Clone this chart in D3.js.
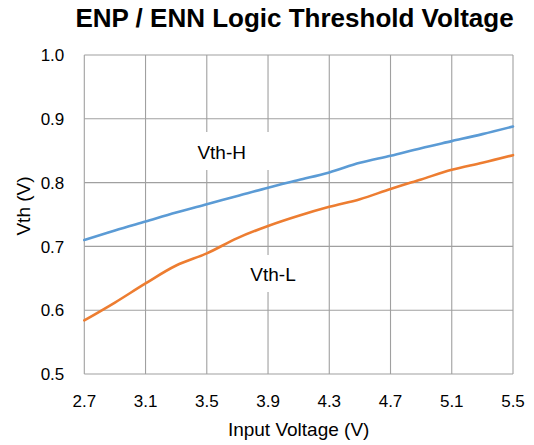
<!DOCTYPE html>
<html>
<head>
<meta charset="utf-8">
<script src="https://cdn.jsdelivr.net/npm/d3@7"></script>
<style>
  body { margin: 0; background: #fff; }
  text { font-family: "Liberation Sans", Arial, sans-serif; fill: #000; }
</style>
</head>
<body>
<svg id="chart" width="534" height="445"></svg>
<script>
// input voltage (V)
const vin = [2.7, 2.9, 3.1, 3.3, 3.5, 3.7, 3.9, 4.1, 4.3, 4.5, 4.7, 4.9, 5.1, 5.3, 5.5];
// threshold voltages
const vthH = [0.710, 0.725, 0.739, 0.753, 0.766, 0.779, 0.792, 0.804, 0.816, 0.831, 0.842, 0.854, 0.865, 0.876, 0.888];
const vthL = [0.584, 0.612, 0.642, 0.670, 0.689, 0.713, 0.732, 0.748, 0.762, 0.774, 0.790, 0.805, 0.820, 0.831, 0.843];

const xTicks = [2.7, 3.1, 3.5, 3.9, 4.3, 4.7, 5.1, 5.5];
const yTicks = [0.5, 0.6, 0.7, 0.8, 0.9, 1.0];

const margin = { top: 55, right: 21, bottom: 71, left: 84.3 };
const width = 534, height = 445;

const svg = d3.select("#chart");

const x = d3.scaleLinear().domain([2.7, 5.5]).range([margin.left, width - margin.right]);
const y = d3.scaleLinear().domain([0.5, 1.0]).range([height - margin.bottom, margin.top]);

// grid
svg.append("g")
  .selectAll("line")
  .data(yTicks)
  .join("line")
  .attr("x1", x(2.7)).attr("x2", x(5.5))
  .attr("y1", d => y(d)).attr("y2", d => y(d))
  .attr("stroke", "#a0a0a0").attr("stroke-width", 1.1);

svg.append("g")
  .selectAll("line")
  .data(xTicks)
  .join("line")
  .attr("x1", d => x(d)).attr("x2", d => x(d))
  .attr("y1", y(0.5)).attr("y2", y(1.0))
  .attr("stroke", "#a0a0a0").attr("stroke-width", 1.1);

// tick labels
svg.append("g")
  .selectAll("text")
  .data(yTicks)
  .join("text")
  .attr("x", x(2.7) - 20)
  .attr("y", d => y(d))
  .attr("dy", "0.36em")
  .attr("text-anchor", "end")
  .style("font-size", "17px")
  .text(d => d.toFixed(1));

svg.append("g")
  .selectAll("text")
  .data(xTicks)
  .join("text")
  .attr("x", d => x(d))
  .attr("y", 406.7)
  .attr("text-anchor", "middle")
  .style("font-size", "17px")
  .text(d => d.toFixed(1));

// axis titles
svg.append("text")
  .attr("transform", "translate(30,206) rotate(-90)")
  .attr("text-anchor", "middle")
  .style("font-size", "19px")
  .text("Vth (V)");

svg.append("text")
  .attr("x", (x(2.7) + x(5.5)) / 2)
  .attr("y", 436)
  .attr("text-anchor", "middle")
  .style("font-size", "19px")
  .text("Input Voltage (V)");

// title
svg.append("text")
  .attr("x", 294.5)
  .attr("y", 27)
  .attr("text-anchor", "middle")
  .style("font-size", "26px")
  .style("font-weight", "bold")
  .text("ENP / ENN Logic Threshold Voltage");

// series
const line = d3.line()
  .x((d, i) => x(vin[i]))
  .y(d => y(d))
  .curve(d3.curveCatmullRom.alpha(0.5));

svg.append("path")
  .datum(vthH)
  .attr("d", line)
  .attr("fill", "none")
  .attr("stroke", "#5b9bd5")
  .attr("stroke-width", 2.6)
  .attr("stroke-linecap", "round");

svg.append("path")
  .datum(vthL)
  .attr("d", line)
  .attr("fill", "none")
  .attr("stroke", "#ed7d31")
  .attr("stroke-width", 2.6)
  .attr("stroke-linecap", "round");

// series labels with white boxes that hide the grid behind them
const labels = [
  { text: "Vth-H", cx: 221.7, base: 159.3, x0: 178, x1: 272, y0: 132, y1: 170 },
  { text: "Vth-L", cx: 273, base: 281, x0: 240, x1: 306, y0: 255, y1: 292 }
];

const lab = svg.append("g").selectAll("g").data(labels).join("g");
lab.append("rect")
  .attr("x", d => d.x0).attr("y", d => d.y0)
  .attr("width", d => d.x1 - d.x0).attr("height", d => d.y1 - d.y0)
  .attr("fill", "#fff");
lab.append("text")
  .attr("x", d => d.cx)
  .attr("y", d => d.base)
  .attr("text-anchor", "middle")
  .style("font-size", "19px")
  .text(d => d.text);
</script>
</body>
</html>
